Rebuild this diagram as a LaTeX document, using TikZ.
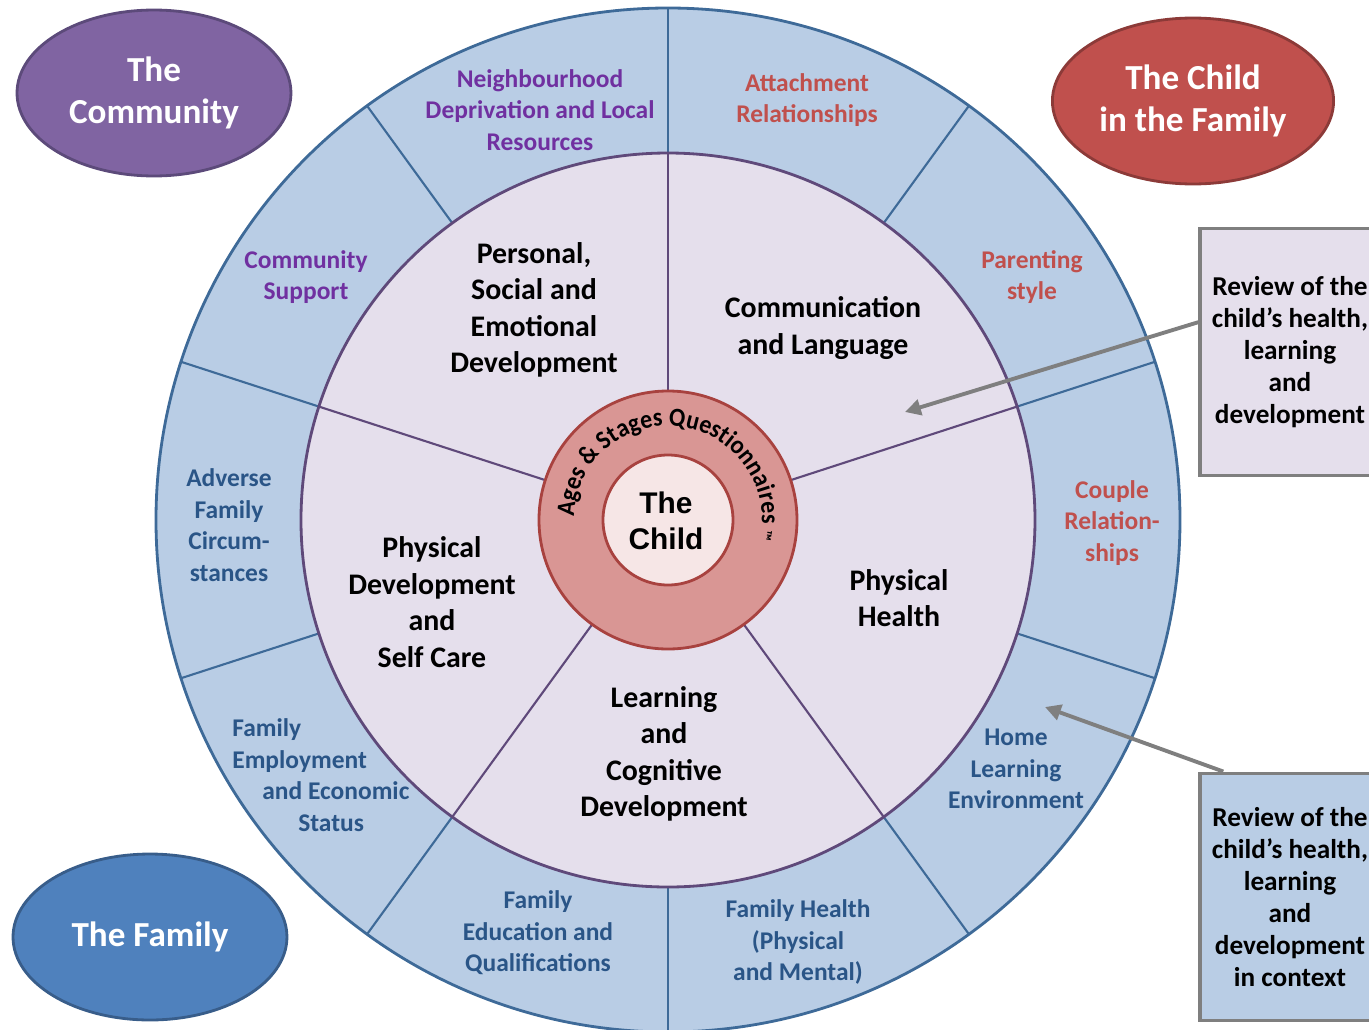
\documentclass[tikz,border=0pt]{standalone}
\usepackage{fontspec}
\setmainfont{Carlito}
\newfontfamily\arialfont{Liberation Sans}
\newfontfamily\ringfont{Carlito}[FakeStretch=0.92]
\usetikzlibrary{shapes.geometric,arrows.meta,decorations.text}

\definecolor{outerfill}{HTML}{B9CDE5}
\definecolor{outerline}{HTML}{3E6A98}
\definecolor{innerfill}{HTML}{E5DFEC}
\definecolor{innerline}{HTML}{5F497A}
\definecolor{ringfill}{HTML}{D99694}
\definecolor{ringline}{HTML}{A8423F}
\definecolor{childfill}{HTML}{F6E6E6}
\definecolor{purpletext}{HTML}{7030A0}
\definecolor{redtext}{HTML}{C0504D}
\definecolor{bluetext}{HTML}{2A5587}
\definecolor{commfill}{HTML}{8064A2}
\definecolor{commline}{HTML}{5C4A7A}
\definecolor{famchildfill}{HTML}{C0504D}
\definecolor{famchildline}{HTML}{8C3A38}
\definecolor{familyfill}{HTML}{4F81BD}
\definecolor{familyline}{HTML}{385D8A}
\definecolor{boxline}{HTML}{7F7F7F}

\newcommand{\asqfont}{\ringfont\bfseries\fontsize{14.8}{18}\selectfont}
\newcommand{\tmfont}{\ringfont\bfseries\fontsize{9}{10}\selectfont}

\tikzset{
  outertext/.style={font=\bfseries\fontsize{14.5}{17.9}\selectfont, align=center, inner sep=0pt},
  innertext/.style={font=\bfseries\fontsize{17}{20.8}\selectfont, align=center, inner sep=0pt},
  childtext/.style={font=\arialfont\bfseries\fontsize{17}{20.5}\selectfont, align=center, inner sep=0pt},
  bubble/.style={ellipse, line width=1.6pt, minimum width=5.48cm, minimum height=3.32cm,
    text=white, align=center, font=\bfseries\fontsize{20}{23.9}\selectfont},
  review/.style={rectangle, draw=boxline, line width=2pt, minimum width=3.6cm,
    minimum height=4.95cm, align=center, font=\bfseries\fontsize{15.5}{18.2}\selectfont},
  pointer/.style={draw=boxline, line width=2.2pt, -{Triangle[length=9pt,width=9pt]}}
}

\begin{document}
\begin{tikzpicture}[x=0.02cm, y=0.02cm]
% Page size
\useasboundingbox (-668,-509) rectangle (701,520);

% Outer ring: the family and the community
\draw [fill=outerfill, draw=outerline, line width=1.6pt] (0,0) circle (512);
\foreach \a in {18,54,...,342} {
\draw [outerline, line width=1.2pt] (\a:367) -- (\a:512);
}

% Inner circle: the five areas
\draw [fill=innerfill, draw=innerline, line width=1.6pt] (0,0) circle (367);
\foreach \a in {18,90,...,306} {
\draw [innerline, line width=1.2pt] (\a:129) -- (\a:367);
}

% The child in the middle
\draw [fill=ringfill, draw=ringline, line width=1.6pt] (0,0) circle (129);
\draw [fill=childfill, draw=ringline, line width=1.6pt] (0,0) circle (65);
\node [childtext] (child) at (-2,-1) {The\\Child};

% Text round the ring
\path [decorate, decoration={text along path, text align=left,
  text={|\asqfont|Ages {\&} Stages Questionnaires |\tmfont|™}}]
  (178:94) arc (178:-80:94);

% The five areas
\node [innertext] (personal) at (-134,210) {Personal,\\Social and\\Emotional\\Development};
\node [innertext] (communication) at (155,192) {Communication\\and Language};
\node [innertext] (physdev) at (-236,-82) {Physical\\Development\\and\\Self Care};
\node [innertext] (health) at (231,-78) {Physical\\Health};
\node [innertext] (learning) at (-4,-234) {Learning\\and\\Cognitive\\Development};

% Labels in the outer ring
\node [outertext, text=purpletext] (neighbourhood) at (-128,410) {Neighbourhood\\Deprivation and Local\\Resources};
\node [outertext, text=redtext] (attachment) at (139,420) {Attachment\\Relationships};
\node [outertext, text=redtext] (parenting) at (364,243) {Parenting\\style};
\node [outertext, text=redtext] (couple) at (444,-3) {Couple\\Relation-\\ships};
\node [outertext, text=bluetext] (home) at (348,-249) {Home\\Learning\\Environment};
\node [outertext, text=bluetext] (famhealth) at (130,-422) {Family Health\\(Physical\\and Mental)};
\node [outertext, text=bluetext] (education) at (-130,-413) {Family\\Education and\\Qualifications};
\node [outertext, text=bluetext, align=left, anchor=west] (employment) at (-436,-255)
  {Family\\Employment\\\hspace{0.6cm}and Economic\\\hspace{1.32cm}Status};
\node [outertext, text=bluetext] (adverse) at (-439,-5) {Adverse\\Family\\Circum-\\stances};
\node [outertext, text=purpletext] (support) at (-362,243) {Community\\Support};

% The three bubbles
\node [bubble, fill=commfill, draw=commline] (community) at (-514,427) {The\\Community};
\node [bubble, fill=famchildfill, draw=famchildline] (childfamily) at (525,419) {The Child\\in the Family};
\node [bubble, fill=familyfill, draw=familyline] (family) at (-518,-417) {The Family};

% Review boxes and their arrows
\node [review, fill=innerfill] (review1) at (622,168) {Review of the\\child’s health,\\learning\\and\\development};
\node [review, fill=outerfill] (review2) at (622,-377) {Review of the\\child’s health,\\learning\\and\\development\\in context};
\coordinate (tip1) at (237,108);
\coordinate (tip2) at (377,-187);
\draw [pointer] (review1.162) -- (tip1);
\draw [pointer] (review2.118) -- (tip2);
\end{tikzpicture}
\end{document}
